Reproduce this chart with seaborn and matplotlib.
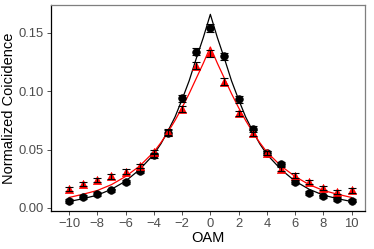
import matplotlib
matplotlib.use("Agg")
import matplotlib.pyplot as plt
import seaborn as sns
import pandas as pd

# measured points
oam = list(range(-10, 11))
black_y = [0.0058, 0.0092, 0.012, 0.015, 0.0224, 0.032, 0.045, 0.064, 0.094, 0.134, 0.154,
           0.130, 0.093, 0.068, 0.047, 0.0377, 0.022, 0.013, 0.010, 0.0075, 0.0063]
black_err = [0.0015, 0.0015, 0.0015, 0.0015, 0.0018, 0.002, 0.002, 0.0025, 0.003, 0.003, 0.0035,
             0.003, 0.003, 0.0025, 0.002, 0.002, 0.0018, 0.0015, 0.0015, 0.0015, 0.0015]
red_y = [0.0164, 0.0204, 0.024, 0.027, 0.031, 0.036, 0.048, 0.065, 0.085, 0.122, 0.1325,
         0.108, 0.081, 0.064, 0.047, 0.0333, 0.0276, 0.022, 0.017, 0.0138, 0.015]
red_err = [0.0018, 0.0018, 0.0018, 0.0018, 0.002, 0.002, 0.002, 0.0025, 0.0025, 0.003, 0.003,
           0.003, 0.0025, 0.0025, 0.002, 0.002, 0.002, 0.0018, 0.0018, 0.0018, 0.0018]

# fitted curves
fit_x = [-10, -9, -8, -7, -6, -5, -4, -3.5, -3, -2.5, -2, -1.5, -1, -0.5, 0,
         0.5, 1, 1.5, 2, 2.5, 3, 3.5, 4, 5, 6, 7, 8, 9, 10]
fit_black = [0.0055, 0.008, 0.011, 0.016, 0.023, 0.033, 0.046, 0.055, 0.066, 0.078, 0.093, 0.109, 0.128, 0.146, 0.166,
             0.146, 0.128, 0.109, 0.093, 0.078, 0.066, 0.055, 0.046, 0.033, 0.023, 0.016, 0.011, 0.008, 0.0055]
fit_red = [0.009, 0.0118, 0.015, 0.020, 0.027, 0.036, 0.048, 0.056, 0.065, 0.075, 0.086, 0.098, 0.111, 0.124, 0.138,
           0.124, 0.111, 0.098, 0.086, 0.075, 0.065, 0.056, 0.048, 0.036, 0.027, 0.020, 0.015, 0.0118, 0.009]

pts = pd.DataFrame({'oam': oam * 2, 'y': black_y + red_y, 'err': black_err + red_err,
                    'series': ['black'] * len(oam) + ['red'] * len(oam)})
fits = pd.DataFrame({'oam': fit_x * 2, 'y': fit_black + fit_red,
                     'series': ['black'] * len(fit_x) + ['red'] * len(fit_x)})

sns.set_style("white")
plt.rcParams['font.family'] = ['Liberation Sans', 'DejaVu Sans']

fig = plt.figure(figsize=(3.74, 2.49), dpi=100)
ax = fig.add_axes([51 / 374, 1 - 211 / 249, 314 / 374, 206 / 249])

pal = {'black': 'black', 'red': '#FF0000'}
sns.lineplot(data=fits, x='oam', y='y', hue='series', palette=pal, lw=0.9, legend=False, ax=ax)
sns.scatterplot(data=pts[pts.series == 'black'], x='oam', y='y', color='black', marker='o',
                s=30, edgecolor='black', linewidth=0.5, legend=False, ax=ax, zorder=3)
sns.scatterplot(data=pts[pts.series == 'red'], x='oam', y='y', color='#FF0000', marker='^',
                s=34, edgecolor='#FF0000', linewidth=0.5, legend=False, ax=ax, zorder=3)
ax.errorbar(pts['oam'], pts['y'], yerr=pts['err'], fmt='none', ecolor='black',
            elinewidth=0.8, capsize=3, capthick=0.8, zorder=4)

ax.set_xlim(-11.28, 10.95)
ax.set_ylim(-0.0026, 0.174)
ax.set_xticks(range(-10, 11, 2))
ax.set_xticklabels([str(v).replace('-', '\u2212') for v in range(-10, 11, 2)])
ax.set_yticks([0, 0.05, 0.10, 0.15])
ax.set_yticklabels(['0.00', '0.05', '0.10', '0.15'])
ax.tick_params(axis='both', direction='out', length=3, width=0.6, color='#333333',
               labelsize=9.4, labelcolor='#4D4D4D', pad=2, left=True, bottom=True)

for side in ['left', 'bottom']:
    ax.spines[side].set_color('black')
    ax.spines[side].set_linewidth(0.9)
for side in ['top', 'right']:
    ax.spines[side].set_color('#7F7F7F')
    ax.spines[side].set_linewidth(0.9)

ax.set_xlabel('OAM', fontsize=10.5, color='black', labelpad=1)
ax.set_ylabel('Normalized Coicidence', fontsize=10.5, color='black', labelpad=2)

fig.savefig('out.png', dpi=100)
